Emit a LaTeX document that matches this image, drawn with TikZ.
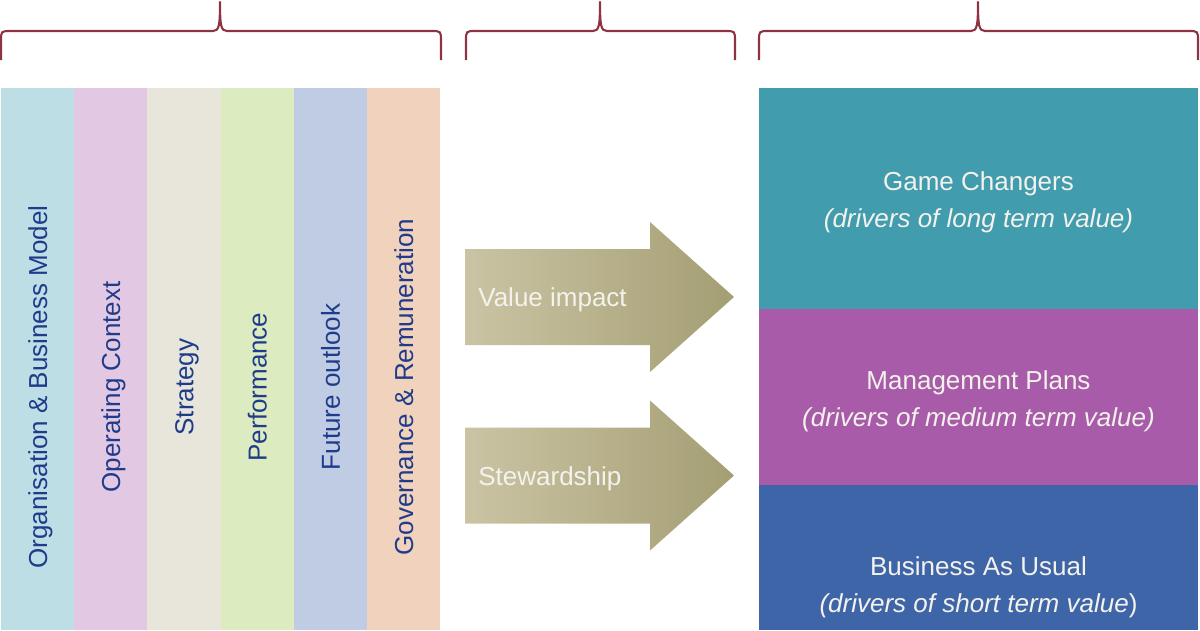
\documentclass[tikz,border=0pt]{standalone}
\usepackage{xcolor}
\usepackage{fontspec}
\setmainfont{Liberation Sans}
\usepackage{tikz}
\usetikzlibrary{positioning,calc}

\definecolor{braceRed}{HTML}{8E3343}
\definecolor{colA}{HTML}{BEDEE5}
\definecolor{colB}{HTML}{E2C8E3}
\definecolor{colC}{HTML}{E8E5DB}
\definecolor{colD}{HTML}{DDEBC1}
\definecolor{colE}{HTML}{BFCCE3}
\definecolor{colF}{HTML}{F1D2BD}
\definecolor{colText}{HTML}{1E3C8A}
\definecolor{arrowLight}{HTML}{CBC4A4}
\definecolor{arrowDark}{HTML}{A49E74}
\definecolor{boxTeal}{HTML}{419CAE}
\definecolor{boxPurple}{HTML}{A75BA8}
\definecolor{boxBlue}{HTML}{3F65A9}
\definecolor{lightText}{HTML}{F4F2EC}

\begin{document}
\begin{tikzpicture}[x=0.02cm, y=-0.02cm,
    brace/.style={draw=braceRed, line width=1.2pt, line join=round},
    coltext/.style={rotate=90, anchor=base, inner sep=0pt, text=colText,
        font=\fontsize{14.8}{21}\selectfont},
    arrowtext/.style={anchor=base west, inner sep=0pt, text=lightText,
        font=\fontsize{14.8}{21}\selectfont},
    boxtext/.style={align=center, inner sep=0pt, text=lightText,
        font=\fontsize{14.8}{21}\selectfont}]
    \useasboundingbox (0,0) rectangle (1200,630);

    % braces on top
    \foreach \a/\m/\b in {1/220/441, 466/600/735, 759/978/1198}
        \draw[brace] (\a,60) -- (\a,41) .. controls (\a,31) .. (\a+10,31)
            -- (\m-7,31) .. controls (\m-1,31) and (\m,26) .. (\m,2)
            .. controls (\m,26) and (\m+1,31) .. (\m+7,31)
            -- (\b-10,31) .. controls (\b,31) .. (\b,41) -- (\b,60);

    % report sections
    \foreach \c/\t [count=\k from 0] in {colA/Organisation \& Business Model,
            colB/Operating Context, colC/Strategy, colD/Performance,
            colE/Future outlook, colF/Governance \& Remuneration} {
        \fill[\c] (1+\k*73.2,88) rectangle (1+\k*73.2+73.2,630);
        \node[coltext] (sec\k) at (1+\k*73.2+46,387) {\t};
    }

    % arrows
    \foreach \y/\t/\n in {297/Value impact/value, 475.5/Stewardship/steward} {
        \shade[left color=arrowLight, right color=arrowDark]
            (465,\y-48) -- (650,\y-48) -- (650,\y-75) -- (734,\y)
            -- (650,\y+75) -- (650,\y+48) -- (465,\y+48) -- cycle;
        \node[arrowtext] (\n) at (478,\y+9.5) {\t};
    }

    % value drivers
    \fill[boxTeal] (759,88) rectangle (1198,309);
    \fill[boxPurple] (759,309) rectangle (1198,485);
    \fill[boxBlue] (759,485) rectangle (1198,630);
    \node[boxtext] (game) at (978.5,202) {Game Changers\\\textit{(drivers of long term value)}};
    \node[boxtext] (plans) at (978.5,401) {Management Plans\\\textit{(drivers of medium term value)}};
    \node[boxtext] (usual) at (978.5,587) {Business As Usual\\\textit{(drivers of short term value})};
\end{tikzpicture}
\end{document}
